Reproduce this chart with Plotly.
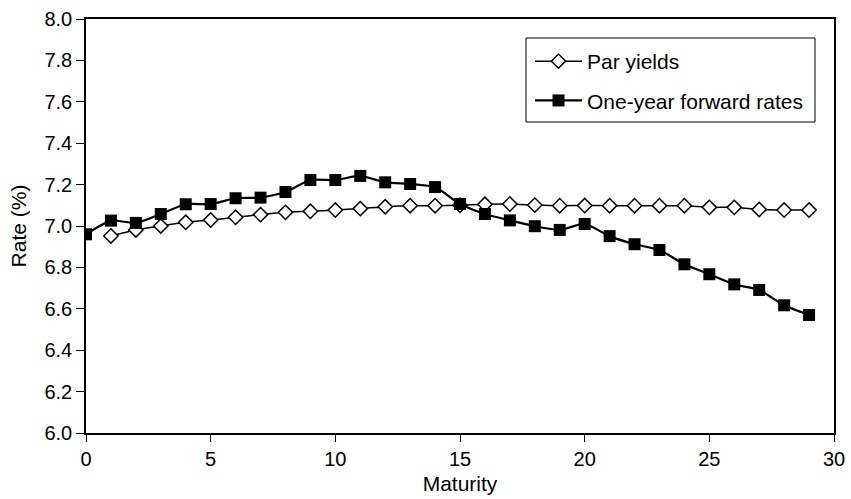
import plotly.graph_objects as go

maturity_par = list(range(1, 30))
par_yields = [6.952, 6.981, 7.000, 7.018, 7.029, 7.042, 7.055, 7.066, 7.071, 7.077,
              7.084, 7.093, 7.098, 7.098, 7.100, 7.105, 7.106, 7.101, 7.098, 7.099,
              7.098, 7.098, 7.098, 7.098, 7.090, 7.090, 7.080, 7.077, 7.077]

maturity_fwd = list(range(0, 30))
forward_rates = [6.960, 7.026, 7.015, 7.058, 7.105, 7.106, 7.134, 7.137, 7.164, 7.222,
                 7.222, 7.242, 7.211, 7.203, 7.188, 7.106, 7.058, 7.027, 6.999, 6.981,
                 7.010, 6.951, 6.912, 6.884, 6.815, 6.767, 6.718, 6.691, 6.617, 6.570]

x_ticks = [0, 5, 10, 15, 20, 25, 30]
y_ticks = [6.0, 6.2, 6.4, 6.6, 6.8, 7.0, 7.2, 7.4, 7.6, 7.8, 8.0]

FONT = "Liberation Sans, Arial, Helvetica, sans-serif"

fig = go.Figure()
fig.add_trace(go.Scatter(
    x=maturity_par, y=par_yields, name="Par yields", mode="lines+markers",
    line=dict(color="black", width=1.5, shape="spline", smoothing=0.6),
    marker=dict(symbol="diamond", size=11, color="white",
                line=dict(color="black", width=1.5)),
    legendgroup="a",
))
fig.add_trace(go.Scatter(
    x=maturity_fwd, y=forward_rates, name="One-year forward rates", mode="lines+markers",
    line=dict(color="black", width=2.2, shape="spline", smoothing=0.6),
    marker=dict(symbol="square", size=12, color="black",
                line=dict(color="black", width=0)),
    legendgroup="b",
))

fig.update_layout(
    width=851, height=499,
    margin=dict(l=86, r=17, t=19, b=66),
    paper_bgcolor="white", plot_bgcolor="white",
    font=dict(family=FONT, size=20, color="black"),
    showlegend=True,
    legend=dict(
        x=(530 - 86) / 748, y=(433 - 41) / 414, xanchor="left", yanchor="top",
        bgcolor="rgba(0,0,0,0)", borderwidth=0,
        font=dict(family=FONT, size=21, color="black"),
        tracegroupgap=9, itemwidth=47,
    ),
    shapes=[dict(type="rect", xref="paper", yref="paper",
                 x0=(526 - 86) / 748, x1=(815 - 86) / 748,
                 y0=(433 - 122) / 414, y1=(433 - 38) / 414,
                 line=dict(color="black", width=1), fillcolor="rgba(0,0,0,0)")],
)

fig.update_xaxes(
    range=[0, 30], tickvals=x_ticks, ticks="outside", ticklen=7, tickwidth=1,
    tickcolor="black", showline=True, linecolor="black", linewidth=1.5,
    mirror=True, showgrid=False, zeroline=False, automargin=False,
    title=dict(text="Maturity", font=dict(size=21), standoff=8),
)
fig.update_yaxes(
    range=[6.0, 8.0], tickvals=y_ticks, tickformat=".1f", ticks="outside",
    ticklen=8, tickwidth=1, tickcolor="black", showline=True, linecolor="black",
    linewidth=1.5, mirror=True, showgrid=False, zeroline=False, automargin=False,
    title=dict(text="Rate (%)", font=dict(size=21), standoff=12),
)

fig.write_html("out.html")
